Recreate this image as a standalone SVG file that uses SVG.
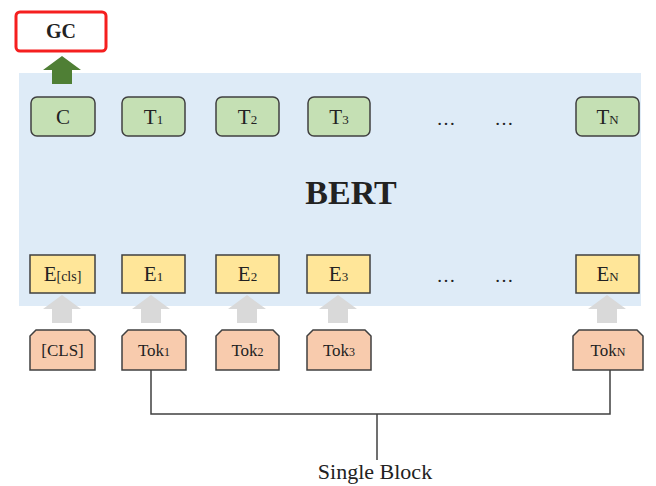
<svg xmlns="http://www.w3.org/2000/svg" width="656" height="486" viewBox="0 0 656 486">
  <style>
    .t { font-family: "Liberation Serif", "Times New Roman", serif; fill: #222; text-anchor: middle; }
    .out { fill: #c5e0b4; stroke: #404040; stroke-width: 1.5; }
    .emb { fill: #ffe699; stroke: #404040; stroke-width: 1.5; }
    .tok { fill: #f8cbad; stroke: #404040; stroke-width: 1.5; }
    .lbl { font-size: 21px; }
    .sub { font-size: 13px; }
    .tk { font-size: 17px; }
    .tks { font-size: 12px; }
    .up { fill: #d9d9d9; }
    .wire { fill: none; stroke: #404040; stroke-width: 1.5; }
  </style>
  <defs>
    <!-- block arrow pointing up: 38 wide, 28 tall -->
    <path id="uparrow" d="M0,0 L19,-14 L38,0 L29,0 L29,14 L9,14 L9,0 Z" transform="translate(0,14)"/>
  </defs>

  <rect width="656" height="486" fill="#ffffff"/>

  <!-- BERT block -->
  <g id="bert">
    <rect x="19" y="73" width="622" height="233" fill="#deebf7"/>
    <text class="t" x="351" y="204" style="font-size:34px;font-weight:bold">BERT</text>
  </g>

  <!-- classifier output -->
  <g id="gc">
    <rect x="16" y="12" width="90" height="39" rx="4" fill="#ffffff" stroke="#f51f1f" stroke-width="3"/>
    <text class="t" x="61" y="38" style="font-size:20px;font-weight:bold">GC</text>
  </g>
  <g id="gc-arrow">
    <path d="M43,70 L62,56 L81,70 L72,70 L72,84 L52,84 L52,70 Z" fill="#4f7f35"/>
  </g>

  <!-- output vectors -->
  <g id="out-c"><rect class="out" x="31" y="97" width="64" height="39" rx="6"/><text class="t lbl" x="63" y="124">C</text></g>
  <g id="out-t1"><rect class="out" x="122" y="97" width="63" height="39" rx="6"/><text class="t lbl" x="153.5" y="124">T<tspan class="sub">1</tspan></text></g>
  <g id="out-t2"><rect class="out" x="216" y="97" width="63" height="39" rx="6"/><text class="t lbl" x="247.5" y="124">T<tspan class="sub">2</tspan></text></g>
  <g id="out-t3"><rect class="out" x="308" y="97" width="62" height="39" rx="6"/><text class="t lbl" x="339" y="124">T<tspan class="sub">3</tspan></text></g>
  <g id="out-dots">
    <text class="t" x="446" y="125" style="font-size:19px">…</text>
    <text class="t" x="504" y="125" style="font-size:19px">…</text>
  </g>
  <g id="out-tn"><rect class="out" x="576" y="97" width="63" height="39" rx="6"/><text class="t lbl" x="607.5" y="124">T<tspan class="sub">N</tspan></text></g>

  <!-- input embeddings -->
  <g id="emb-cls"><rect class="emb" x="30" y="255" width="65" height="38"/><text class="t lbl" x="62.5" y="281">E<tspan style="font-size:14px">[cls]</tspan></text></g>
  <g id="emb-1"><rect class="emb" x="122" y="255" width="63" height="38"/><text class="t lbl" x="153.5" y="281">E<tspan class="sub">1</tspan></text></g>
  <g id="emb-2"><rect class="emb" x="216" y="255" width="63" height="38"/><text class="t lbl" x="247.5" y="281">E<tspan class="sub">2</tspan></text></g>
  <g id="emb-3"><rect class="emb" x="307" y="255" width="63" height="38"/><text class="t lbl" x="338.5" y="281">E<tspan class="sub">3</tspan></text></g>
  <g id="emb-dots">
    <text class="t" x="446" y="282" style="font-size:19px">…</text>
    <text class="t" x="504" y="282" style="font-size:19px">…</text>
  </g>
  <g id="emb-n"><rect class="emb" x="576" y="255" width="63" height="38"/><text class="t lbl" x="607.5" y="281">E<tspan class="sub">N</tspan></text></g>

  <!-- token-to-embedding arrows -->
  <g id="up-arrows" class="up">
    <use href="#uparrow" x="43" y="295"/>
    <use href="#uparrow" x="132" y="295"/>
    <use href="#uparrow" x="228" y="295"/>
    <use href="#uparrow" x="319" y="295"/>
    <use href="#uparrow" x="588" y="295"/>
  </g>

  <!-- input tokens -->
  <g id="tok-cls"><path class="tok" d="M36,330 L89,330 L95,336 L95,370 L30,370 L30,336 Z"/><text class="t tk" x="62.5" y="356">[CLS]</text></g>
  <g id="tok-1"><path class="tok" d="M128,330 L180,330 L186,336 L186,370 L122,370 L122,336 Z"/><text class="t tk" x="154" y="356">Tok<tspan class="tks">1</tspan></text></g>
  <g id="tok-2"><path class="tok" d="M222,330 L273,330 L279,336 L279,370 L216,370 L216,336 Z"/><text class="t tk" x="247.5" y="356">Tok<tspan class="tks">2</tspan></text></g>
  <g id="tok-3"><path class="tok" d="M313,330 L365,330 L371,336 L371,370 L307,370 L307,336 Z"/><text class="t tk" x="339" y="356">Tok<tspan class="tks">3</tspan></text></g>
  <g id="tok-n"><path class="tok" d="M579,330 L637,330 L643,336 L643,370 L573,370 L573,336 Z"/><text class="t tk" x="608" y="356">Tok<tspan class="tks">N</tspan></text></g>

  <!-- bracket grouping the tokens -->
  <g id="connectors">
    <path class="wire" d="M151,370 V414 H610 V370"/>
    <path class="wire" d="M377,414 V460"/>
  </g>

  <g id="single-block">
    <text class="t" x="375" y="479" style="font-size:22px">Single Block</text>
  </g>
</svg>
